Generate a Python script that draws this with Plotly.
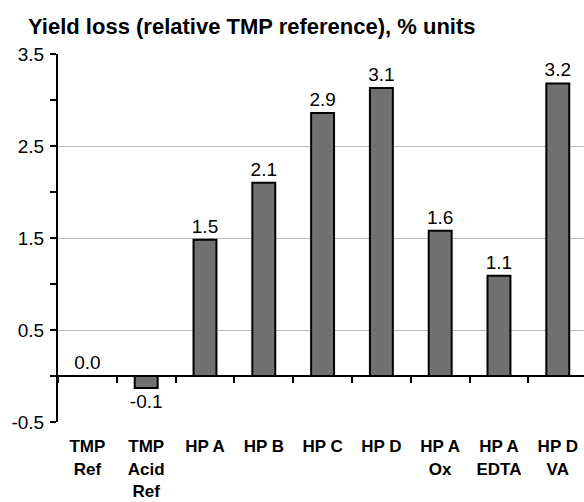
import plotly.graph_objects as go

# Yield loss per pulp/bleaching case, % units relative to the TMP reference
categories = [
    "TMP<br>Ref", "TMP<br>Acid<br>Ref", "HP A", "HP B", "HP C", "HP D",
    "HP A<br>Ox", "HP A<br>EDTA", "HP D<br>VA",
]
yield_loss = [0.0, -0.13, 1.48, 2.10, 2.86, 3.13, 1.58, 1.09, 3.18]
y_major_ticks = [-0.5, 0.5, 1.5, 2.5, 3.5]
y_tick_labels = ["-0.5", "0.5", "1.5", "2.5", "3.5"]

FONT = "Liberation Sans, Arial, sans-serif"

fig = go.Figure(
    go.Bar(
        x=categories,
        y=yield_loss,
        width=0.39,
        marker=dict(color="#717171", line=dict(color="black", width=2)),
        texttemplate="%{y:.1f}",
        textposition="outside",
        constraintext="none",
        cliponaxis=False,
        textfont=dict(family=FONT, size=19, color="black"),
        hoverinfo="skip",
    )
)

fig.update_layout(
    width=584,
    height=502,
    margin=dict(l=58, r=0, t=54, b=80),
    paper_bgcolor="white",
    plot_bgcolor="white",
    showlegend=False,
    title=dict(
        text="Yield loss (relative TMP reference), % units",
        font=dict(family=FONT, size=22, color="black", weight="bold"),
        xref="container", x=28 / 584, xanchor="left",
        yref="container", y=1 - 26 / 502, yanchor="middle",
    ),
    xaxis=dict(
        type="category",
        range=[-0.5, 8.446],
        anchor="free",
        position=0.125,
        automargin=False,
        showline=True,
        linecolor="black",
        linewidth=2,
        ticks="outside",
        tickson="boundaries",
        ticklen=6,
        tickwidth=2,
        tickcolor="black",
        showgrid=False,
        ticklabelstandoff=55,
        tickfont=dict(family=FONT, size=17, color="black", weight="bold"),
    ),
    yaxis=dict(
        range=[-0.5, 3.5],
        automargin=False,
        tickmode="array",
        tickvals=y_major_ticks,
        ticktext=y_tick_labels,
        showline=True,
        linecolor="black",
        linewidth=2,
        ticks="outside",
        ticklen=6,
        tickwidth=1.5,
        tickcolor="black",
        showgrid=True,
        gridcolor="#b8b8b8",
        gridwidth=1,
        zeroline=False,
        minor=dict(tick0=0, dtick=1, ticks="outside", ticklen=6,
                   tickwidth=1.5, tickcolor="black", showgrid=False),
        tickfont=dict(family=FONT, size=19, color="black"),
        ticklabelstandoff=2,
    ),
)

fig.write_html("out.html")
